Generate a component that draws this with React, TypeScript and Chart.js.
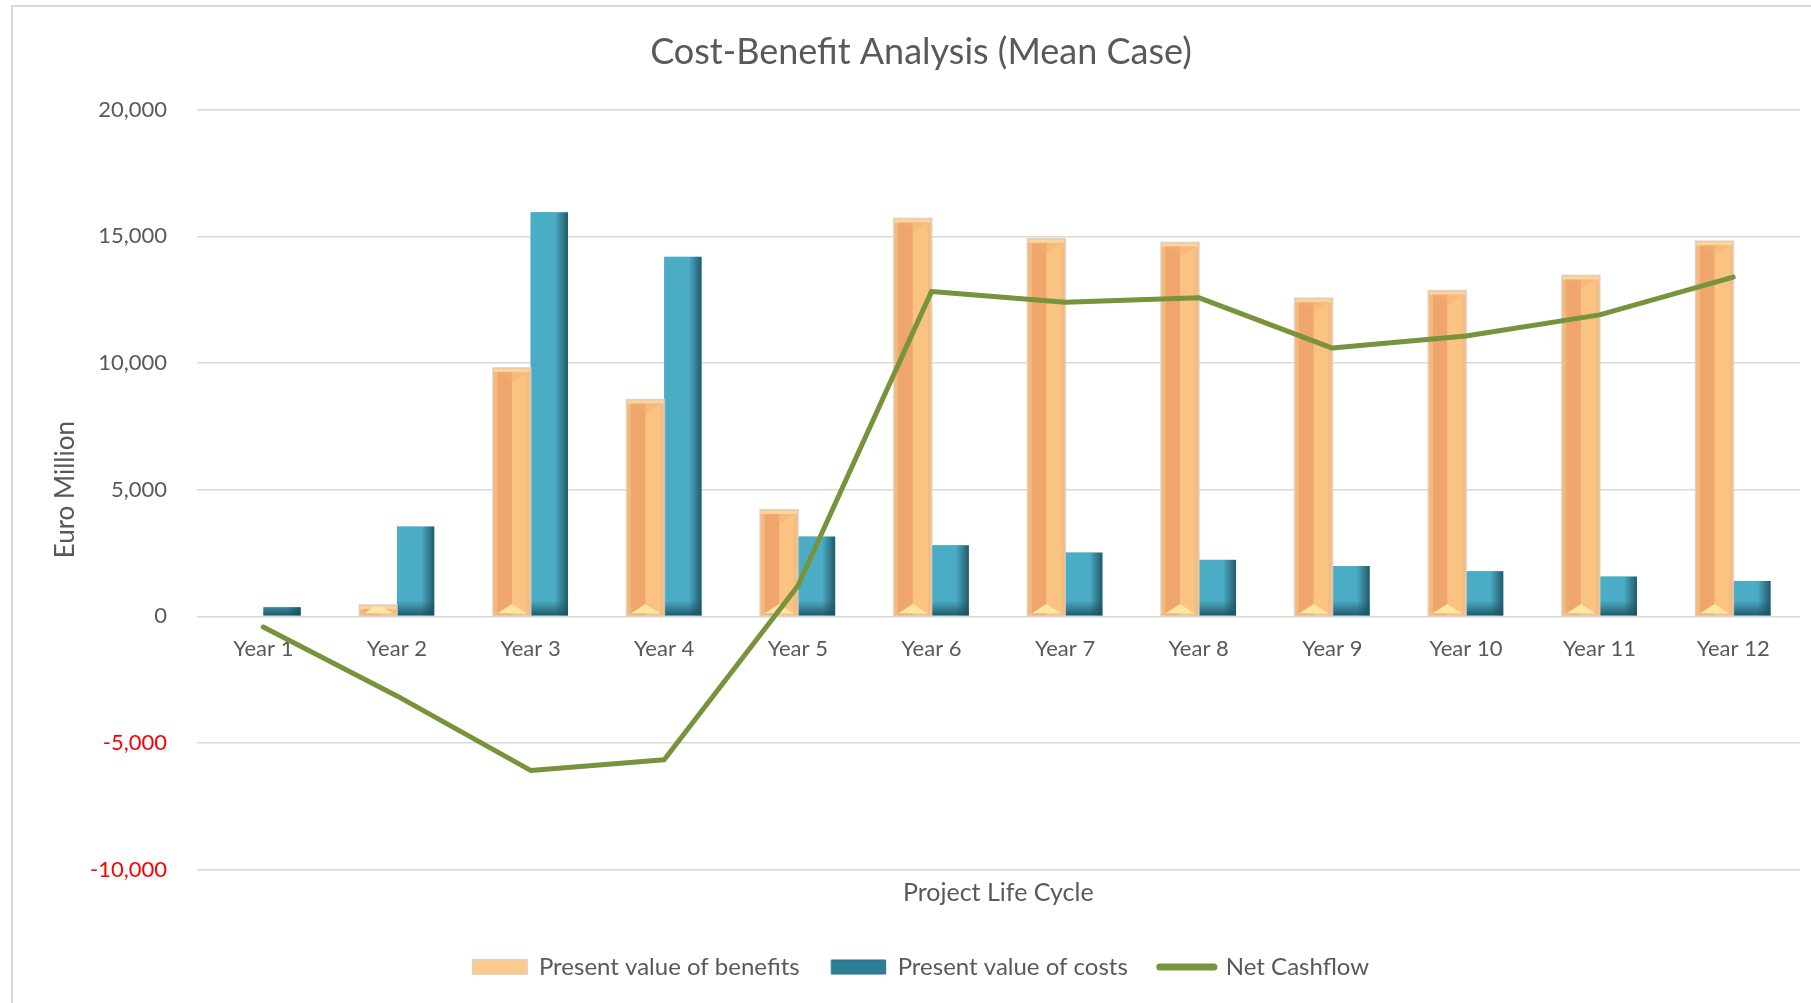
import React, { useEffect, useRef } from "react";
import { Chart, registerables } from "chart.js";

Chart.register(...registerables);

const categories = ["Year 1", "Year 2", "Year 3", "Year 4", "Year 5", "Year 6", "Year 7", "Year 8", "Year 9", "Year 10", "Year 11", "Year 12"];
const benefits = [0, 440, 9800, 8550, 4200, 15700, 14900, 14750, 12550, 12850, 13450, 14800];
const costs = [360, 3550, 15950, 14200, 3150, 2810, 2520, 2230, 1990, 1785, 1570, 1400];
const netCashflow = [-420, -3140, -6080, -5660, 1200, 12820, 12400, 12580, 10590, 11070, 11900, 13390];
const seriesNames = ["Present value of benefits", "Present value of costs", "Net Cashflow"];
const yTicks = { min: -10000, max: 20000, step: 5000 };

const FONT = "Lato, 'Open Sans', sans-serif";
const TEXT = "#595959";

function drawOrange(ctx: CanvasRenderingContext2D, l: number, r: number, t: number, b: number) {
  const w = r - l;
  const h = b - t;
  const cx = (l + r) / 2;
  const e = Math.min(4, w * 0.12);
  ctx.save();
  ctx.beginPath();
  ctx.rect(l, t, w, h);
  ctx.clip();
  ctx.fillStyle = "#FBC381";
  ctx.fillRect(l, t, w, h);
  ctx.fillStyle = "#EFA66C";
  ctx.fillRect(l + e, t, cx - l - e, h);
  ctx.fillStyle = "#F6B778";
  ctx.fillRect(l, t, e, h);
  ctx.fillStyle = "#F5BC80";
  ctx.fillRect(r - e, t, e, h);
  // top cap
  ctx.fillStyle = "#FDD59C";
  ctx.fillRect(l, t, w, Math.min(e, h / 2));
  const d = (w / 2 - e) * 0.65;
  ctx.fillStyle = "#F0A96F";
  ctx.beginPath();
  ctx.moveTo(l + e, t + e);
  ctx.lineTo(r - e, t + e);
  ctx.lineTo(cx, t + e + d);
  ctx.closePath();
  ctx.fill();
  ctx.fillStyle = "#F7BA7C";
  ctx.beginPath();
  ctx.moveTo(cx, t + e);
  ctx.lineTo(r - e, t + e);
  ctx.lineTo(cx, t + e + d);
  ctx.closePath();
  ctx.fill();
  // bottom triangle
  ctx.fillStyle = "#FDE6A2";
  ctx.beginPath();
  ctx.moveTo(l + e, b - 2);
  ctx.lineTo(r - e, b - 2);
  ctx.lineTo(cx, b - 2 - d);
  ctx.closePath();
  ctx.fill();
  ctx.restore();
  ctx.strokeStyle = "rgba(225, 200, 180, 0.8)";
  ctx.lineWidth = 2;
  ctx.strokeRect(l, t, w, h);
}

function drawTeal(ctx: CanvasRenderingContext2D, l: number, r: number, t: number, b: number) {
  const w = r - l;
  const h = b - t;
  ctx.save();
  ctx.beginPath();
  ctx.rect(l, t, w, h);
  ctx.clip();
  ctx.fillStyle = "#4BACC6";
  ctx.fillRect(l, t, w, h);
  const gr = ctx.createLinearGradient(r - 13, 0, r, 0);
  gr.addColorStop(0, "rgba(30, 80, 95, 0)");
  gr.addColorStop(1, "rgba(30, 80, 95, 0.9)");
  ctx.fillStyle = gr;
  ctx.fillRect(r - 13, t, 13, h);
  const gb = ctx.createLinearGradient(0, b - 15, 0, b);
  gb.addColorStop(0, "rgba(30, 80, 95, 0)");
  gb.addColorStop(1, "rgba(30, 80, 95, 0.9)");
  ctx.fillStyle = gb;
  ctx.fillRect(l, b - 15, w, 15);
  ctx.restore();
}

const bevelPlugin = {
  id: "bevel",
  afterDatasetDraw(chart: any, args: any) {
    const meta = args.meta;
    if (meta.type !== "bar") return;
    const style = chart.data.datasets[args.index].bevelStyle;
    const ctx = chart.ctx;
    meta.data.forEach((el: any) => {
      const p = el.getProps(["x", "y", "base", "width"], true);
      const l = p.x - p.width / 2;
      const r = p.x + p.width / 2;
      const t = Math.min(p.y, p.base);
      const b = Math.max(p.y, p.base);
      if (b - t < 1) return;
      if (style === "orange") drawOrange(ctx, l, r, t, b);
      else drawTeal(ctx, l, r, t, b);
    });
  },
};

export default function App() {
  const ref = useRef<HTMLCanvasElement | null>(null);
  useEffect(() => {
    if (!ref.current) return;
    const legendFill = ["#FBCB8E", "#2E7F95", "#77933C"];
    const legendStroke = ["#EBCDB5", "#2A7186", "#77933C"];
    const legendWidth = [2, 1, 7];
    const legendStyle = ["rect", "rect", "line"];
    const chart = new Chart(ref.current, {
      type: "bar",
      data: {
        labels: categories,
        datasets: [
          { type: "bar", label: seriesNames[0], data: benefits, backgroundColor: "#FBC381", borderWidth: 0, order: 2, bevelStyle: "orange" } as any,
          { type: "bar", label: seriesNames[1], data: costs, backgroundColor: "#4BACC6", borderWidth: 0, order: 2, bevelStyle: "teal" } as any,
          { type: "line", label: seriesNames[2], data: netCashflow, borderColor: "#77933C", backgroundColor: "#77933C", borderWidth: 5, pointRadius: 0, tension: 0, borderCapStyle: "round", borderJoinStyle: "round", order: 1 } as any,
        ],
      },
      options: {
        responsive: false,
        animation: false,
        devicePixelRatio: 1,
        layout: { padding: { left: 42, right: 40, top: 0, bottom: 14 } },
        datasets: { bar: { categoryPercentage: 0.56, barPercentage: 1 } } as any,
        plugins: {
          title: {
            display: true,
            text: "Cost-Benefit Analysis (Mean Case)",
            color: TEXT,
            font: { family: FONT, size: 36, weight: "normal" },
            padding: { top: 30.4, bottom: 36.1 },
          },
          subtitle: {
            display: true,
            position: "bottom",
            fullSize: false,
            text: "Project Life Cycle",
            color: TEXT,
            font: { family: FONT, size: 25, weight: "normal" },
            padding: { top: 8.3, bottom: 15 },
            weight: 500,
          } as any,
          legend: {
            position: "bottom",
            labels: {
              color: TEXT,
              font: { family: FONT, size: 24 },
              usePointStyle: true,
              pointStyleWidth: 54,
              boxHeight: 14,
              padding: 32,
              generateLabels: (c: any) =>
                c.data.datasets.map((ds: any, i: number) => ({
                  text: ds.label,
                  fillStyle: legendFill[i],
                  strokeStyle: legendStroke[i],
                  lineWidth: legendWidth[i],
                  pointStyle: legendStyle[i],
                  lineCap: "round",
                  hidden: false,
                  datasetIndex: i,
                  fontColor: TEXT,
                })),
            },
          },
          tooltip: { enabled: false },
        },
        scales: {
          x: {
            type: "category",
            position: { y: 0 } as any,
            grid: { display: false, drawTicks: false },
            border: { display: false },
            ticks: { color: TEXT, font: { family: FONT, size: 22 }, padding: 19.3 },
          },
          y: {
            min: yTicks.min,
            max: yTicks.max,
            afterFit: (s: any) => { s.width = 154.5; },
            grid: { color: "#D9D9D9", lineWidth: 1.5, drawTicks: false },
            border: { display: false },
            ticks: {
              stepSize: yTicks.step,
              padding: 29.5,
              font: { family: FONT, size: 22 },
              color: (c: any) => (c.tick && c.tick.value < 0 ? "#FF0000" : TEXT),
              callback: (v: any) => Number(v).toLocaleString("en-US"),
            },
            title: {
              display: true,
              text: "Euro Million",
              color: TEXT,
              font: { family: FONT, size: 26, weight: "normal" },
              padding: { top: 8.4, bottom: 0 },
            },
          },
        },
      } as any,
      plugins: [bevelPlugin],
    });
    return () => chart.destroy();
  }, []);

  return (
    <div style={{ position: "fixed", left: 0, top: 0, width: 1811, height: 1003, overflow: "hidden", background: "#FFFFFF" }}>
      <div style={{ position: "absolute", left: 11, top: 5, width: 1840, height: 1040, border: "2px solid #D9D9D9", boxSizing: "border-box" }} />
      <canvas ref={ref} width={1840} height={1003} style={{ position: "absolute", left: 0, top: 0, width: 1840, height: 1003 }} />
    </div>
  );
}
